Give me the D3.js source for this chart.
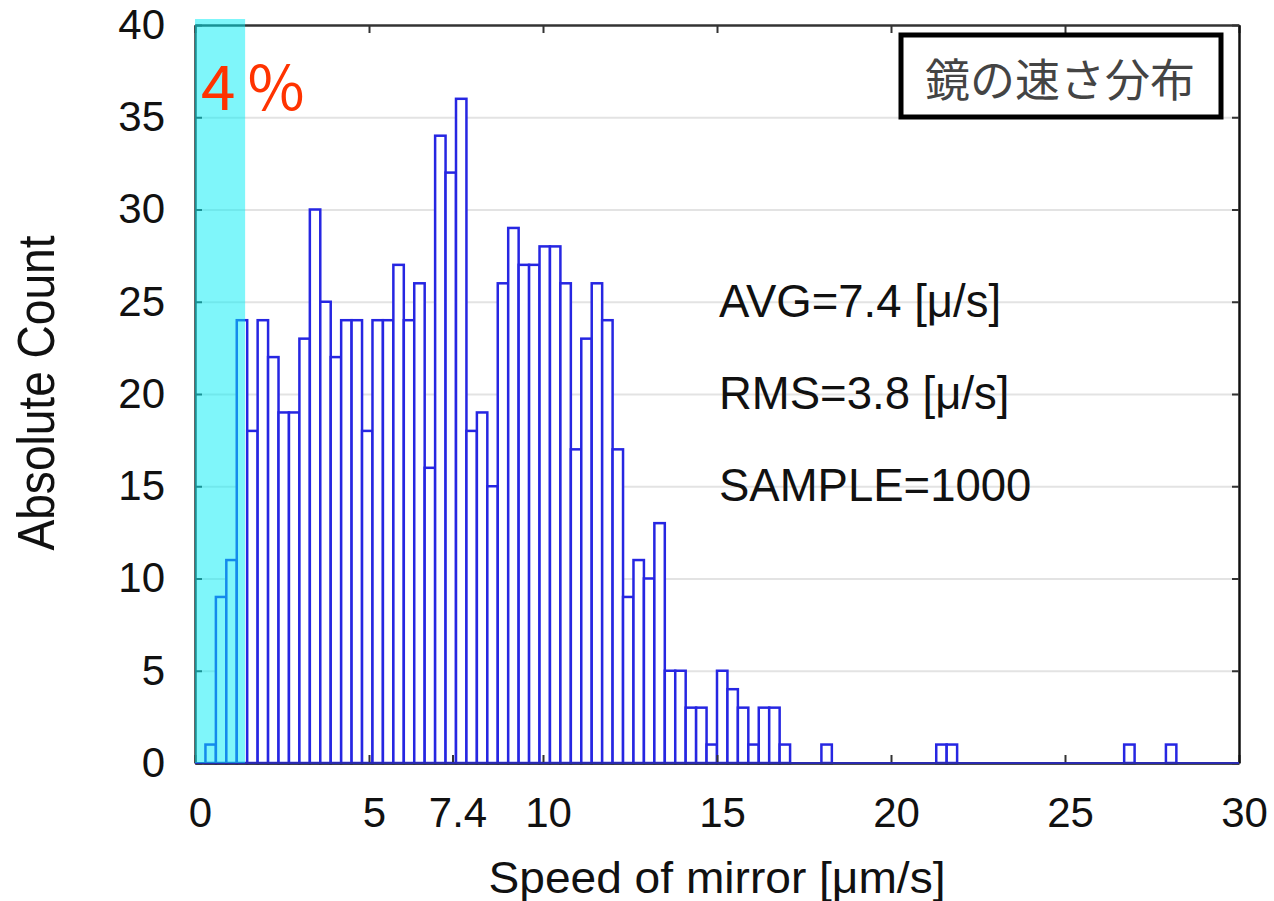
<!DOCTYPE html>
<html>
<head>
<meta charset="utf-8">
<script src="https://cdn.jsdelivr.net/npm/d3@7"></script>
<style>
  html, body { margin: 0; padding: 0; background: #ffffff; }
  svg { display: block; }
</style>
</head>
<body>
<svg id="chart" width="1274" height="901"></svg>
<script>
// ---------------- DATA ----------------
const binWidth = 0.3;            // µm/s per bin, bins start at 0
const counts = [
  0, 1, 9, 11, 24, 18, 24, 22, 19, 19,
  23, 30, 25, 22, 24, 24, 18, 24, 24, 27,
  24, 26, 16, 34, 32, 36, 18, 19, 15, 26,
  29, 27, 27, 28, 28, 26, 17, 23, 26, 24,
  17, 9, 11, 10, 13, 5, 5, 3, 3, 1,
  5, 4, 3, 1, 3, 3, 1, 0, 0, 0,
  1, 0, 0, 0, 0, 0, 0, 0, 0, 0,
  0, 1, 1, 0, 0, 0, 0, 0, 0, 0,
  0, 0, 0, 0, 0, 0, 0, 0, 0, 1,
  0, 0, 0, 1, 0, 0, 0, 0, 0, 0
];
const xDomain = [0, 30];
const yDomain = [0, 40];
const xTicks = [0, 5, 7.4, 10, 15, 20, 25, 30];
const yTicks = [0, 5, 10, 15, 20, 25, 30, 35, 40];
const shadeRange = [0, 1.44];     // slowest 4% region
const shadeLabel = "4%";
const statLines = ["AVG=7.4 [\u03BC/s]", "RMS=3.8 [\u03BC/s]", "SAMPLE=1000"];
const titleText = "鏡の速さ分布";
const xTitle = "Speed of mirror [\u03BCm/s]";
const yTitle = "Absolute Count";

// ---------------- LAYOUT ----------------
const svg = d3.select("#chart");
const L = 195, R = 1239, T = 25, B = 763;
const x = d3.scaleLinear().domain(xDomain).range([L, R]);
const y = d3.scaleLinear().domain(yDomain).range([B, T]);
const sans = "'Liberation Sans', Arial, Helvetica, sans-serif";
const cjk = "'Noto Sans CJK JP', 'Noto Sans CJK SC', sans-serif";

// gridlines
const grid = svg.append("g").attr("transform", `translate(${L},0)`)
  .call(d3.axisLeft(y).tickValues(yTicks.filter(v => v > 0 && v < 40)).tickSize(-(R - L)).tickFormat(""));
grid.select(".domain").remove();
grid.selectAll(".tick line").attr("stroke", "#e3e3e3").attr("stroke-width", 2);

// bars
const bins = counts.map((c, i) => ({ x0: i * binWidth, x1: (i + 1) * binWidth, c }));
svg.append("g").selectAll("rect")
  .data(bins.filter(d => d.c > 0))
  .join("rect")
  .attr("x", d => x(d.x0))
  .attr("y", d => y(d.c))
  .attr("width", d => x(d.x1) - x(d.x0))
  .attr("height", d => y(0) - y(d.c))
  .attr("fill", "#ffffff")
  .attr("stroke", "#2626e2")
  .attr("stroke-width", 2.5);

// axes / frame
const axColor = "#333333";
const gB = svg.append("g").attr("transform", `translate(0,${B})`)
  .call(d3.axisBottom(x).tickValues(xTicks).tickSizeInner(-8).tickSizeOuter(0).tickPadding(34)
    .tickFormat(d => String(d)));
gB.select(".domain").attr("stroke", "#111").attr("stroke-width", 2.5);
gB.selectAll(".tick line").attr("stroke", axColor).attr("stroke-width", 2);
gB.selectAll(".tick text").attr("font-family", sans).attr("font-size", 42).attr("fill", "#111").attr("dx", 5);

const gT = svg.append("g").attr("transform", `translate(0,${T})`)
  .call(d3.axisTop(x).tickValues(xTicks.filter(v => v !== 7.4)).tickSizeInner(-8).tickSizeOuter(0).tickFormat(""));
gT.select(".domain").attr("stroke", axColor).attr("stroke-width", 2.5);
gT.selectAll(".tick line").attr("stroke", axColor).attr("stroke-width", 2);

const gL = svg.append("g").attr("transform", `translate(${L},0)`)
  .call(d3.axisLeft(y).tickValues(yTicks).tickSizeInner(-7).tickSizeOuter(0).tickPadding(30));
gL.select(".domain").attr("stroke", axColor).attr("stroke-width", 2.5);
gL.selectAll(".tick line").attr("stroke", axColor).attr("stroke-width", 2);
gL.selectAll(".tick text").attr("font-family", sans).attr("font-size", 42).attr("fill", "#111");

const gR = svg.append("g").attr("transform", `translate(${R},0)`)
  .call(d3.axisRight(y).tickValues(yTicks).tickSizeInner(-7).tickSizeOuter(0).tickFormat(""));
gR.select(".domain").attr("stroke", "#111").attr("stroke-width", 2.5);
gR.selectAll(".tick line").attr("stroke", axColor).attr("stroke-width", 2);

// blue zero-level line of the histogram
svg.append("line")
  .attr("x1", x(xDomain[0])).attr("x2", x(xDomain[1]))
  .attr("y1", y(0)).attr("y2", y(0))
  .attr("stroke", "#2a2ab0").attr("stroke-width", 2.2);

// cyan shaded region
svg.append("rect")
  .attr("x", x(shadeRange[0]))
  .attr("y", y(yDomain[1]) - 6)
  .attr("width", x(shadeRange[1]) - x(shadeRange[0]))
  .attr("height", y(0) - y(yDomain[1]) + 6)
  .attr("fill", "rgb(0,238,245)")
  .attr("fill-opacity", 0.5);

svg.append("text")
  .attr("x", x(shadeRange[0]) + 6)
  .attr("y", 110)
  .attr("font-family", cjk)
  .attr("font-size", 62)
  .attr("font-weight", 400)
  .attr("letter-spacing", 12)
  .attr("fill", "#ff3300")
  .text(shadeLabel);

// stats text
svg.append("g").selectAll("text")
  .data(statLines)
  .join("text")
  .attr("x", 719)
  .attr("y", (d, i) => [317, 409, 501][i])
  .attr("font-family", sans)
  .attr("font-size", 45.5)
  .attr("fill", "#111")
  .text(d => d);

// title box
svg.append("rect")
  .attr("x", 901).attr("y", 35)
  .attr("width", 320).attr("height", 82)
  .attr("fill", "#ffffff").attr("stroke", "#000").attr("stroke-width", 5);
svg.append("text")
  .attr("x", 1060).attr("y", 77)
  .attr("text-anchor", "middle")
  .attr("dominant-baseline", "central")
  .attr("font-family", cjk)
  .attr("font-size", 45)
  .attr("fill", "#444")
  .text(titleText);

// axis titles
svg.append("text")
  .attr("x", 717).attr("y", 893)
  .attr("text-anchor", "middle")
  .attr("font-family", sans)
  .attr("font-size", 44)
  .attr("fill", "#111")
  .attr("textLength", 457)
  .attr("lengthAdjust", "spacingAndGlyphs")
  .text(xTitle);

svg.append("text")
  .attr("transform", "translate(54,393) rotate(-90)")
  .attr("text-anchor", "middle")
  .attr("font-family", sans)
  .attr("font-size", 52)
  .attr("fill", "#111")
  .attr("textLength", 315)
  .attr("lengthAdjust", "spacingAndGlyphs")
  .text(yTitle);
</script>
</body>
</html>
